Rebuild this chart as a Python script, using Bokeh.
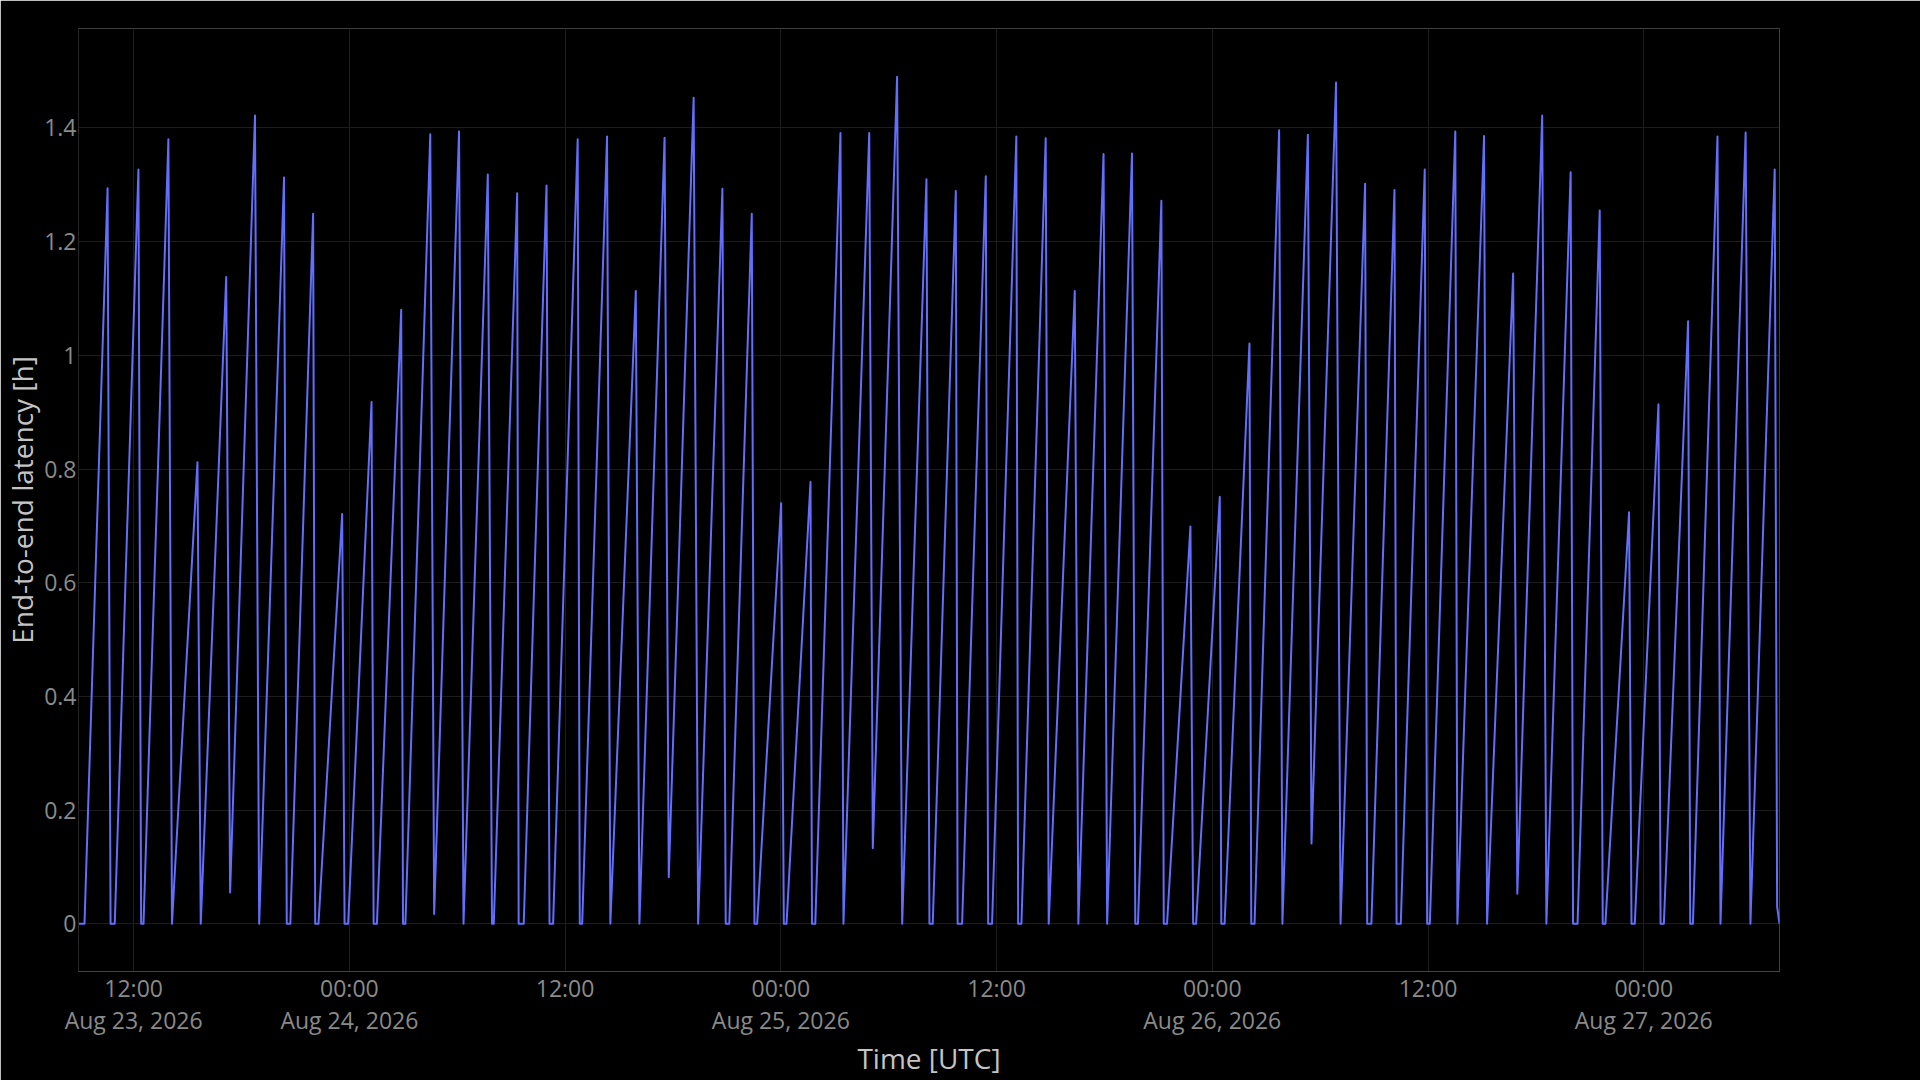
import pandas as pd
from bokeh.plotting import figure
from bokeh.models import Range1d, FixedTicker, CustomJSTickFormatter
from bokeh.embed import file_html
from bokeh.resources import INLINE

# vertices of the latency trace (UTC)
times = [
    "2026-08-23 08:56", "2026-08-23 09:16", "2026-08-23 10:33", "2026-08-23 10:43", "2026-08-23 10:57",
    "2026-08-23 12:16", "2026-08-23 12:25", "2026-08-23 12:33", "2026-08-23 13:56", "2026-08-23 14:08",
    "2026-08-23 15:33", "2026-08-23 15:44", "2026-08-23 17:09", "2026-08-23 17:22", "2026-08-23 18:45",
    "2026-08-23 18:59", "2026-08-23 20:22", "2026-08-23 20:31", "2026-08-23 20:43", "2026-08-23 21:59",
    "2026-08-23 22:06", "2026-08-23 22:17", "2026-08-23 23:36", "2026-08-23 23:44", "2026-08-23 23:56",
    "2026-08-24 01:14", "2026-08-24 01:21", "2026-08-24 01:32", "2026-08-24 02:53", "2026-08-24 02:59",
    "2026-08-24 03:07", "2026-08-24 04:30", "2026-08-24 04:43", "2026-08-24 06:06", "2026-08-24 06:21",
    "2026-08-24 07:42", "2026-08-24 07:56", "2026-08-24 08:02", "2026-08-24 09:20", "2026-08-24 09:25",
    "2026-08-24 09:42", "2026-08-24 10:58", "2026-08-24 11:08", "2026-08-24 11:20", "2026-08-24 12:42",
    "2026-08-24 12:49", "2026-08-24 12:57", "2026-08-24 14:20", "2026-08-24 14:31", "2026-08-24 15:56",
    "2026-08-24 16:08", "2026-08-24 17:32", "2026-08-24 17:46", "2026-08-24 19:09", "2026-08-24 19:24",
    "2026-08-24 20:45", "2026-08-24 20:56", "2026-08-24 21:08", "2026-08-24 22:23", "2026-08-24 22:32",
    "2026-08-24 22:41", "2026-08-25 00:01", "2026-08-25 00:10", "2026-08-25 00:19", "2026-08-25 01:39",
    "2026-08-25 01:44", "2026-08-25 01:55", "2026-08-25 03:19", "2026-08-25 03:29", "2026-08-25 04:55",
    "2026-08-25 05:07", "2026-08-25 06:28", "2026-08-25 06:45", "2026-08-25 08:06", "2026-08-25 08:16",
    "2026-08-25 08:27", "2026-08-25 09:44", "2026-08-25 09:50", "2026-08-25 10:05", "2026-08-25 11:24",
    "2026-08-25 11:32", "2026-08-25 11:45", "2026-08-25 13:06", "2026-08-25 13:12", "2026-08-25 13:23",
    "2026-08-25 14:44", "2026-08-25 14:54", "2026-08-25 16:21", "2026-08-25 16:33", "2026-08-25 17:57",
    "2026-08-25 18:09", "2026-08-25 19:32", "2026-08-25 19:43", "2026-08-25 19:52", "2026-08-25 21:10",
    "2026-08-25 21:18", "2026-08-25 21:29", "2026-08-25 22:47", "2026-08-25 22:56", "2026-08-25 23:06",
    "2026-08-26 00:25", "2026-08-26 00:30", "2026-08-26 00:41", "2026-08-26 02:04", "2026-08-26 02:10",
    "2026-08-26 02:21", "2026-08-26 03:43", "2026-08-26 03:54", "2026-08-26 05:19", "2026-08-26 05:31",
    "2026-08-26 06:53", "2026-08-26 07:08", "2026-08-26 08:30", "2026-08-26 08:37", "2026-08-26 08:51",
    "2026-08-26 10:08", "2026-08-26 10:15", "2026-08-26 10:29", "2026-08-26 11:49", "2026-08-26 11:57",
    "2026-08-26 12:06", "2026-08-26 13:31", "2026-08-26 13:38", "2026-08-26 15:07", "2026-08-26 15:17",
    "2026-08-26 16:44", "2026-08-26 16:58", "2026-08-26 18:21", "2026-08-26 18:35", "2026-08-26 19:56",
    "2026-08-26 20:04", "2026-08-26 20:19", "2026-08-26 21:33", "2026-08-26 21:43", "2026-08-26 21:52",
    "2026-08-26 23:11", "2026-08-26 23:19", "2026-08-26 23:30", "2026-08-27 00:49", "2026-08-27 00:56",
    "2026-08-27 01:07", "2026-08-27 02:28", "2026-08-27 02:35", "2026-08-27 02:44", "2026-08-27 04:06",
    "2026-08-27 04:16", "2026-08-27 05:40", "2026-08-27 05:56", "2026-08-27 07:17", "2026-08-27 07:25",
    "2026-08-27 07:33",
]
latency = [
    0, 0, 1.294, 0, 0,
    1.327, 0, 0, 1.380, 0,
    0.812, 0, 1.138, 0.055, 1.422,
    0, 1.313, 0, 0, 1.249,
    0, 0, 0.721, 0, 0,
    0.918, 0, 0, 1.080, 0,
    0, 1.389, 0.017, 1.394, 0,
    1.318, 0, 0, 1.285, 0,
    0, 1.299, 0, 0, 1.380,
    0, 0, 1.385, 0, 1.113,
    0, 1.383, 0.082, 1.453, 0,
    1.293, 0, 0, 1.249, 0,
    0, 0.740, 0, 0, 0.777,
    0, 0, 1.391, 0, 1.391,
    0.133, 1.490, 0, 1.310, 0,
    0, 1.289, 0, 0, 1.315,
    0, 0, 1.385, 0, 0,
    1.382, 0, 1.113, 0, 1.354,
    0, 1.355, 0, 0, 1.272,
    0, 0, 0.699, 0, 0,
    0.751, 0, 0, 1.021, 0,
    0, 1.396, 0, 1.388, 0.141,
    1.480, 0, 1.302, 0, 0,
    1.291, 0, 0, 1.327, 0,
    0, 1.394, 0, 1.386, 0,
    1.144, 0.053, 1.422, 0, 1.322,
    0, 0, 1.255, 0, 0,
    0.724, 0, 0, 0.914, 0,
    0, 1.060, 0, 0, 1.385,
    0, 1.392, 0, 1.327, 0.03,
    0,
]

tick_times = ["2026-08-23 12:00", "2026-08-24 00:00", "2026-08-24 12:00", "2026-08-25 00:00",
              "2026-08-25 12:00", "2026-08-26 00:00", "2026-08-26 12:00", "2026-08-27 00:00"]
tick_labels = ["12:00\nAug 23, 2026", "00:00\nAug 24, 2026", "12:00", "00:00\nAug 25, 2026",
               "12:00", "00:00\nAug 26, 2026", "12:00", "00:00\nAug 27, 2026"]
y_ticks = [0, 0.2, 0.4, 0.6, 0.8, 1, 1.2, 1.4]

t = pd.to_datetime(times)
tick_ms = [float(pd.Timestamp(s).value // 10**6) for s in tick_times]

FONT = "Open Sans"
TICK_COLOR = "#8a8a8a"
TITLE_COLOR = "#c4c4c4"
GRID_COLOR = "#1c1c1c"

p = figure(
    width=1920, height=1080,
    x_axis_type="datetime",
    x_range=Range1d(t[0], t[-1]),
    y_range=Range1d(-0.084, 1.575),
    output_backend="svg",
    toolbar_location=None,
    min_border_left=78, min_border_right=141,
    min_border_top=28, min_border_bottom=109,
)
p.background_fill_color = "black"
p.border_fill_color = "black"
p.outline_line_color = None

p.line(t, latency, line_color="#636efa", line_width=2, line_join="round")

p.xaxis.ticker = FixedTicker(ticks=tick_ms)
p.xaxis.major_label_overrides = dict(zip(tick_ms, tick_labels))
p.xgrid.ticker = FixedTicker(ticks=tick_ms)
p.yaxis.ticker = FixedTicker(ticks=y_ticks)
p.yaxis.formatter = CustomJSTickFormatter(code="return tick.toFixed(1).replace(/\\.0$/, '');")

for ax in (p.xaxis, p.yaxis):
    ax.major_tick_line_color = None
    ax.minor_tick_line_color = None
    ax.major_tick_out = 0
    ax.major_tick_in = 0
    ax.minor_tick_out = 0
    ax.major_label_text_font = FONT
    ax.major_label_text_font_size = "23px"
    ax.major_label_text_color = TICK_COLOR
    ax.axis_label_text_font = FONT
    ax.axis_label_text_font_size = "28px"
    ax.axis_label_text_font_style = "normal"
    ax.axis_label_text_color = TITLE_COLOR

p.xaxis.axis_label = "Time [UTC]"
p.yaxis.axis_label = "End-to-end latency [h]"
p.xaxis.major_label_text_line_height = 1.0
p.xaxis.major_label_standoff = 0
p.yaxis.major_label_standoff = 2
p.xaxis.axis_label_standoff = 0
p.yaxis.axis_label_standoff = 0
p.xaxis.axis_line_color = "#444444"
p.yaxis.axis_line_color = "#262626"

p.xgrid.grid_line_color = GRID_COLOR
p.ygrid.grid_line_color = GRID_COLOR

html = file_html(p, INLINE)
html = html.replace("<body>", '<body style="background-color:#000000">', 1)
open("out.html", "w").write(html)
